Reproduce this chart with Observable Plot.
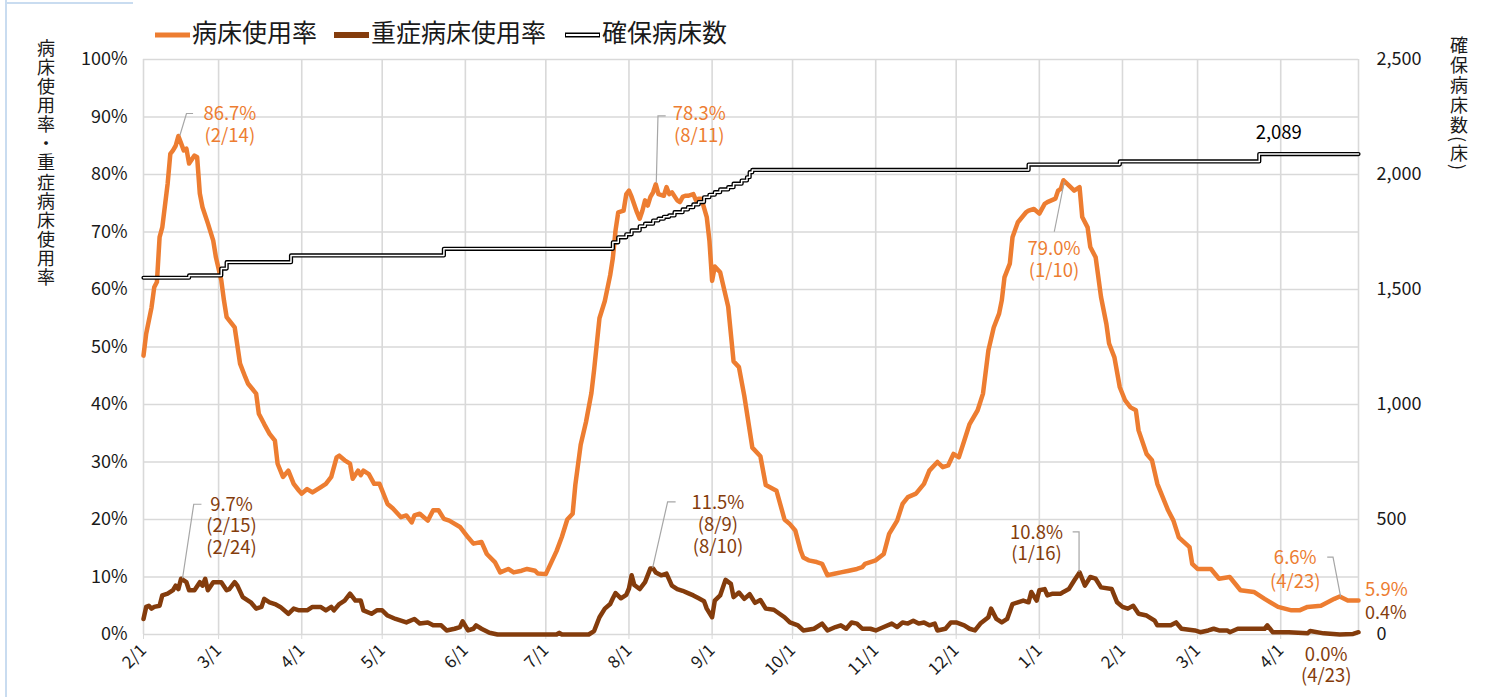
<!DOCTYPE html>
<html><head><meta charset="utf-8">
<script src="https://cdn.jsdelivr.net/npm/d3@7"></script>
<script src="https://cdn.jsdelivr.net/npm/@observablehq/plot@0.6"></script>
<style>
body{margin:0;background:#fff;}
#wrap{position:relative;width:1503px;height:697px;overflow:hidden;background:#fff;}
#wrap svg{position:absolute;left:0;top:0;}
.edgeL{position:absolute;left:5px;top:0;width:2px;height:697px;background:#c9dcf0;}
.edgeT{position:absolute;left:5px;top:2px;width:128px;height:2px;background:#c9dcf0;}
</style></head><body><div id="wrap"><div class="edgeL"></div><div class="edgeT"></div></div>
<script>
// ---- data ----
const occDates = [
"2022-02-01","2022-02-02","2022-02-04","2022-02-05","2022-02-06","2022-02-07","2022-02-08","2022-02-10","2022-02-11","2022-02-12",
"2022-02-13","2022-02-14","2022-02-16","2022-02-17","2022-02-18","2022-02-20","2022-02-21","2022-02-22","2022-02-23","2022-02-25",
"2022-02-27","2022-02-28","2022-03-02","2022-03-03","2022-03-04","2022-03-07","2022-03-09","2022-03-11","2022-03-12","2022-03-15",
"2022-03-16","2022-03-18","2022-03-20","2022-03-22","2022-03-23","2022-03-25","2022-03-27","2022-03-29","2022-03-31","2022-04-01",
"2022-04-03","2022-04-05","2022-04-08","2022-04-10","2022-04-12","2022-04-14","2022-04-15","2022-04-17","2022-04-19","2022-04-20",
"2022-04-22","2022-04-23","2022-04-24","2022-04-26","2022-04-28","2022-04-30","2022-05-03","2022-05-05","2022-05-08","2022-05-10",
"2022-05-12","2022-05-13","2022-05-15","2022-05-18","2022-05-20","2022-05-22","2022-05-24","2022-05-26","2022-05-30","2022-06-02",
"2022-06-04","2022-06-07","2022-06-09","2022-06-12","2022-06-14","2022-06-17","2022-06-19","2022-06-22","2022-06-24","2022-06-27",
"2022-06-28","2022-07-01","2022-07-03","2022-07-05","2022-07-07","2022-07-09","2022-07-11","2022-07-12","2022-07-14","2022-07-16",
"2022-07-18","2022-07-19","2022-07-21","2022-07-23","2022-07-25","2022-07-26","2022-07-27","2022-07-28","2022-07-30","2022-07-31",
"2022-08-01","2022-08-02","2022-08-04","2022-08-05","2022-08-06","2022-08-07","2022-08-08","2022-08-09","2022-08-10","2022-08-11",
"2022-08-12","2022-08-14","2022-08-15","2022-08-16","2022-08-17","2022-08-19","2022-08-20","2022-08-21","2022-08-22","2022-08-23",
"2022-08-25","2022-08-26","2022-08-27","2022-08-28","2022-08-30","2022-08-31","2022-09-01","2022-09-02","2022-09-04","2022-09-07",
"2022-09-09","2022-09-11","2022-09-13","2022-09-16","2022-09-19","2022-09-21","2022-09-25","2022-09-28","2022-09-30","2022-10-02",
"2022-10-04","2022-10-05","2022-10-07","2022-10-10","2022-10-12","2022-10-14","2022-10-17","2022-10-19","2022-10-22","2022-10-25",
"2022-10-27","2022-10-28","2022-11-01","2022-11-04","2022-11-06","2022-11-09","2022-11-11","2022-11-13","2022-11-16","2022-11-19",
"2022-11-21","2022-11-24","2022-11-26","2022-11-28","2022-11-30","2022-12-02","2022-12-04","2022-12-06","2022-12-09","2022-12-11",
"2022-12-13","2022-12-15","2022-12-17","2022-12-18","2022-12-19","2022-12-21","2022-12-22","2022-12-24","2022-12-27","2022-12-28",
"2022-12-30","2023-01-01","2023-01-03","2023-01-04","2023-01-07","2023-01-08","2023-01-09","2023-01-10","2023-01-12","2023-01-14",
"2023-01-16","2023-01-17","2023-01-19","2023-01-20","2023-01-22","2023-01-24","2023-01-26","2023-01-27","2023-01-29","2023-01-31",
"2023-02-02","2023-02-04","2023-02-06","2023-02-07","2023-02-10","2023-02-12","2023-02-14","2023-02-16","2023-02-18","2023-02-20",
"2023-02-22","2023-02-26","2023-02-27","2023-03-01","2023-03-06","2023-03-09","2023-03-13","2023-03-17","2023-03-22","2023-03-26",
"2023-03-31","2023-04-05","2023-04-08","2023-04-11","2023-04-16","2023-04-21","2023-04-23","2023-04-26","2023-04-30"];
const occValues = [
48.5,52.3,56.9,60.4,61.3,69.1,70.8,78.4,83.6,84.2,
85.0,86.7,84.2,84.5,81.9,83.3,83.0,76.7,74.3,71.5,
68.5,65.6,61.6,58.1,55.2,53.4,47.1,44.7,43.6,41.9,
38.4,36.6,34.9,33.7,29.7,27.4,28.5,26.2,25.0,24.5,
25.3,24.7,25.6,26.2,27.4,30.8,31.1,30.3,29.7,27.1,
28.5,27.7,28.5,27.9,26.2,26.2,22.7,21.9,20.4,20.7,
19.5,20.7,21.0,19.8,21.6,21.6,20.1,19.8,18.7,16.9,
15.8,16.1,14.0,12.6,10.8,11.4,10.8,11.1,11.4,11.1,
10.6,10.5,12.5,14.5,17.0,20.0,21.0,26.0,33.0,37.0,
42.0,46.0,55.0,58.0,62.5,65.5,70.3,73.4,73.7,76.6,
77.2,76.1,73.4,72.3,73.7,75.5,74.6,76.1,76.9,78.3,
76.6,76.3,77.8,76.6,76.9,75.5,75.2,76.1,76.3,76.3,
76.6,75.5,75.8,75.8,72.6,68.5,61.5,64.0,63.0,57.0,
47.5,46.5,41.5,32.5,31.0,26.0,25.0,20.0,19.2,18.1,
14.6,13.4,12.9,12.6,12.3,10.3,10.6,10.8,11.1,11.4,
11.7,12.3,12.9,14.0,17.5,19.8,22.7,23.9,24.5,26.2,
28.5,30.0,29.1,29.4,31.4,30.8,33.7,36.6,39.0,41.9,
49.4,53.4,55.8,58.1,62.1,64.5,69.1,71.7,73.4,73.7,
74.0,73.2,74.9,75.2,75.8,77.2,77.5,79.0,78.1,77.2,
77.8,72.6,70.8,67.4,65.6,58.7,54.0,50.6,48.2,43.0,
40.7,39.5,39.0,35.5,31.4,30.3,26.2,23.9,21.6,19.8,
16.9,15.2,12.3,11.4,11.4,9.7,10.0,7.7,7.4,6.2,
4.8,4.2,4.2,4.8,5.0,6.2,6.6,5.9,5.9];

const sevDates = [
"2022-02-01","2022-02-02","2022-02-03","2022-02-04","2022-02-05","2022-02-07","2022-02-08","2022-02-10","2022-02-12","2022-02-13",
"2022-02-14","2022-02-15","2022-02-17","2022-02-18","2022-02-20","2022-02-22","2022-02-23","2022-02-24","2022-02-25","2022-02-27",
"2022-02-28","2022-03-02","2022-03-04","2022-03-05","2022-03-07","2022-03-08","2022-03-10","2022-03-12","2022-03-13","2022-03-15",
"2022-03-17","2022-03-18","2022-03-20","2022-03-22","2022-03-24","2022-03-27","2022-03-29","2022-03-31","2022-04-03","2022-04-05",
"2022-04-08","2022-04-10","2022-04-12","2022-04-13","2022-04-15","2022-04-17","2022-04-19","2022-04-21","2022-04-23","2022-04-24",
"2022-04-27","2022-04-29","2022-05-01","2022-05-03","2022-05-06","2022-05-08","2022-05-10","2022-05-13","2022-05-15","2022-05-18",
"2022-05-20","2022-05-23","2022-05-25","2022-05-28","2022-05-30","2022-05-31","2022-06-02","2022-06-04","2022-06-05","2022-06-07",
"2022-06-10","2022-06-13","2022-07-05","2022-07-06","2022-07-07","2022-07-17","2022-07-19","2022-07-21","2022-07-23","2022-07-25",
"2022-07-26","2022-07-27","2022-07-29","2022-07-31","2022-08-01","2022-08-02","2022-08-03","2022-08-05","2022-08-07","2022-08-09",
"2022-08-10","2022-08-11","2022-08-13","2022-08-15","2022-08-17","2022-08-19","2022-08-21","2022-08-23","2022-08-25","2022-08-27",
"2022-08-29","2022-08-30","2022-09-01","2022-09-02","2022-09-04","2022-09-06","2022-09-08","2022-09-09","2022-09-11","2022-09-13",
"2022-09-15","2022-09-17","2022-09-19","2022-09-21","2022-09-24","2022-09-28","2022-09-30","2022-10-03","2022-10-05","2022-10-09",
"2022-10-12","2022-10-14","2022-10-17","2022-10-19","2022-10-21","2022-10-23","2022-10-25","2022-10-27","2022-10-30","2022-11-01",
"2022-11-04","2022-11-07","2022-11-09","2022-11-11","2022-11-13","2022-11-15","2022-11-17","2022-11-19","2022-11-21","2022-11-23",
"2022-11-24","2022-11-27","2022-11-29","2022-12-01","2022-12-04","2022-12-06","2022-12-08","2022-12-10","2022-12-13","2022-12-14",
"2022-12-16","2022-12-18","2022-12-20","2022-12-22","2022-12-24","2022-12-26","2022-12-28","2022-12-29","2022-12-31","2023-01-01",
"2023-01-03","2023-01-04","2023-01-06","2023-01-09","2023-01-10","2023-01-12","2023-01-14","2023-01-16","2023-01-18","2023-01-20",
"2023-01-22","2023-01-24","2023-01-28","2023-01-30","2023-02-01","2023-02-03","2023-02-05","2023-02-07","2023-02-10","2023-02-13",
"2023-02-14","2023-02-19","2023-02-21","2023-02-23","2023-02-28","2023-03-02","2023-03-05","2023-03-07","2023-03-09","2023-03-12",
"2023-03-13","2023-03-16","2023-03-26","2023-03-27","2023-03-29","2023-04-04","2023-04-11","2023-04-12","2023-04-17","2023-04-23",
"2023-04-28","2023-04-30"];
const sevValues = [
2.7,4.8,5.0,4.5,4.8,5.0,6.8,7.1,7.7,8.5,
7.9,9.7,9.1,7.7,7.7,9.1,8.5,9.7,7.7,9.1,
9.1,9.1,7.7,7.9,9.1,8.5,6.5,5.9,5.6,4.5,
4.8,6.2,5.6,5.3,4.8,3.6,4.5,4.2,4.2,4.8,
4.8,4.2,4.8,4.2,5.3,5.9,7.1,5.9,5.9,4.2,
3.6,4.2,4.2,3.3,2.7,2.4,2.1,2.7,1.9,2.1,
1.6,1.6,0.7,1.0,1.3,2.3,0.7,1.0,1.6,1.0,
0.3,0.0,0.0,0.3,0.0,0.0,0.6,3.0,4.5,5.3,
6.3,7.2,6.3,6.9,8.0,10.3,8.6,7.9,9.1,11.5,
11.5,10.8,10.3,10.6,8.5,7.9,7.6,7.2,6.8,6.3,
5.8,4.5,3.0,5.9,6.8,9.5,8.8,6.5,7.3,6.2,
7.0,5.5,6.0,4.5,4.3,3.0,2.1,1.6,0.7,1.0,
1.9,0.7,1.3,1.6,1.0,2.1,1.9,1.0,1.0,0.7,
1.3,1.9,1.3,2.1,1.9,2.4,1.9,2.1,1.6,1.9,
0.7,1.0,2.1,2.1,1.6,1.0,0.7,1.9,3.0,4.5,
2.7,2.1,2.7,5.3,5.6,5.9,5.6,7.4,5.9,7.7,
7.9,6.8,7.1,7.1,7.4,7.9,9.4,10.8,8.5,10.0,
9.7,8.2,7.9,5.6,4.8,4.5,5.0,3.6,3.3,2.4,
1.6,1.6,2.1,1.0,0.7,0.4,0.7,1.0,0.7,0.7,
0.4,1.0,1.0,1.6,0.4,0.4,0.2,0.6,0.2,0.0,
0.1,0.4];

const bedDates = [
"2022-02-01","2022-02-18","2022-03-02","2022-03-04","2022-03-28","2022-05-24","2022-07-26","2022-07-28","2022-07-31","2022-08-02",
"2022-08-05","2022-08-07","2022-08-10","2022-08-12","2022-08-14","2022-08-16","2022-08-18","2022-08-21","2022-08-23","2022-08-25",
"2022-08-27","2022-08-29","2022-08-31","2022-09-02","2022-09-04","2022-09-07","2022-09-09","2022-09-12","2022-09-14","2022-09-15",
"2022-09-16","2022-12-28","2023-01-31","2023-03-24","2023-04-30"];
const bedValues = [
1551,1561,1591,1619,1648,1677,1705,1727,1740,1757,
1775,1786,1800,1808,1816,1822,1836,1848,1858,1870,
1880,1901,1912,1923,1935,1945,1960,1974,1988,2010,
2020,2043,2057,2089,2089];

const monthTicks = ["2022-02-01","2022-03-01","2022-04-01","2022-05-01","2022-06-01","2022-07-01","2022-08-01",
"2022-09-01","2022-10-01","2022-11-01","2022-12-01","2023-01-01","2023-02-01","2023-03-01","2023-04-01"];
const pctTicks = [0,10,20,30,40,50,60,70,80,90,100];
const bedTicks = [0,500,1000,1500,2000,2500];
const BED_MAX = 2500;

const seriesNames = ["病床使用率","重症病床使用率","確保病床数"];
const leftTitle = "病床使用率・重症病床使用率";
const rightTitle = "確保病床数(床)";

// ---- build ----
const ORANGE = "#ED7D31", BROWN = "#843C0C", GRID = "#d9d9d9", LEAD = "#a6a6a6", INK = "#1a1a1a";
const FONT = "'Noto Sans CJK JP', 'Noto Sans', sans-serif";
const toD = s => new Date(s + "T00:00:00Z");
const occ = occDates.map((d, i) => ({date: toD(d), v: occValues[i]}));
const sev = sevDates.map((d, i) => ({date: toD(d), v: sevValues[i]}));
const bed = bedDates.map((d, i) => ({date: toD(d), v: bedValues[i]}));
const X0 = toD("2022-02-01"), X1 = toD("2023-04-30");
const ticks = monthTicks.map(toD);

const chart = Plot.plot({
  width: 1503, height: 697,
  marginLeft: 143, marginRight: 145, marginTop: 59, marginBottom: 63,
  style: {fontFamily: FONT, background: "transparent", color: INK, overflow: "visible"},
  x: {type: "utc", domain: [X0, X1]},
  y: {domain: [0, 100]},
  marks: [
    Plot.gridY({ticks: pctTicks, stroke: GRID, strokeOpacity: 1, strokeWidth: 1.6}),
    Plot.gridX({ticks, stroke: GRID, strokeOpacity: 1, strokeWidth: 1.6}),
    Plot.ruleX([X1], {stroke: GRID, strokeWidth: 1.6}),
    Plot.axisY({ticks: pctTicks, tickFormat: d => d + "%", tickSize: 0, tickPadding: 16, fontSize: 18, label: null}),
    Plot.axisY({anchor: "right", ticks: bedTicks.map(b => b / BED_MAX * 100), tickFormat: d => d3.format(",")(Math.round(d * BED_MAX / 100)), tickSize: 0, tickPadding: 18, fontSize: 18, label: null}),
    Plot.axisX({ticks, tickFormat: d => `${d.getUTCMonth() + 1}/${d.getUTCDate()}`, tickRotate: -45, tickSize: 5, tickPadding: 8, stroke: GRID, fontSize: 17, label: null}),
    Plot.line(occ, {x: "date", y: "v", stroke: ORANGE, strokeWidth: 4.5, strokeLinejoin: "round"}),
    Plot.line(sev, {x: "date", y: "v", stroke: BROWN, strokeWidth: 4.5, strokeLinejoin: "round"}),
    Plot.line(bed, {x: "date", y: d => d.v / BED_MAX * 100, curve: "step-after", stroke: "#000", strokeWidth: 4.2}),
    Plot.line(bed, {x: "date", y: d => d.v / BED_MAX * 100, curve: "step-after", stroke: "#fff", strokeWidth: 1.5})
  ]
});
document.getElementById("wrap").appendChild(chart);

const svg = d3.select(chart);
const sx = chart.scale("x"), sy = chart.scale("y");
const P = (d, v) => [sx.apply(toD(d)), sy.apply(v)];
const g = svg.append("g").attr("font-family", FONT).attr("text-anchor", "start");

function txt(x, y, s, opt = {}) {
  return g.append("text").attr("x", x).attr("y", y).attr("dy", "0.36em")
    .attr("text-anchor", opt.anchor || "start").attr("fill", opt.fill || INK)
    .attr("font-size", opt.size || 18).text(s);
}
// multi-line label as one text element with tspans
function mtxt(x, y, lines, lh, opt = {}) {
  const t = g.append("text").attr("x", x).attr("y", y)
    .attr("text-anchor", opt.anchor || "middle").attr("fill", opt.fill || INK)
    .attr("font-size", opt.size || 18);
  lines.forEach((s, i) => t.append("tspan").attr("x", x).attr("dy", i === 0 ? "0.36em" : lh).text(s));
  return t;
}

// annotations: anchored at data point, offsets in px
const ann = [
  {d: "2022-02-14", v: 86.7, c: ORANGE, lines: ["86.7%", "(2/14)"], tx: 52, ty: -22, lh: 21.5, lead: [[2, 0], [8.6, -22], [15.2, -22]]},
  {d: "2022-02-15", v: 9.7, c: BROWN, lines: ["9.7%", "(2/15)", "(2/24)"], tx: 51, ty: -74, lh: 21.5, lead: [[2, 0], [13.2, -74], [20.9, -74]]},
  {d: "2022-08-11", v: 78.3, c: ORANGE, lines: ["78.3%", "(8/11)"], tx: 44, ty: -70, lh: 21.5, lead: [[1, -1], [2.7, -68], [10.4, -68]]},
  {d: "2022-08-09", v: 11.5, c: BROWN, lines: ["11.5%", "(8/9)", "(8/10)"], tx: 68, ty: -66, lh: 22, lead: [[2.7, 0], [17.7, -66], [25.7, -66]]},
  {d: "2023-01-10", v: 79.0, c: ORANGE, lines: ["79.0%", "(1/10)"], tx: -9, ty: 69, lh: 21.5, lead: [[1.3, 2], [-8.7, 52]]},
  {d: "2023-01-16", v: 10.8, c: BROWN, lines: ["10.8%", "(1/16)"], tx: -42.5, ty: -40, lh: 21.5, lead: [[-6.4, -40], [0, -40], [0, 0]]},
  {d: "2023-04-23", v: 6.6, c: ORANGE, lines: ["6.6%", "(4/23)"], tx: -44, ty: -39, lh: 24, lead: [[-12, -39], [-6.2, -39], [1.4, 0.6]]},
  {d: "2023-04-23", v: 0.0, c: BROWN, lines: ["0.0%", "(4/23)"], tx: -13, ty: 20, lh: 21.5, lead: null}
];
for (const a of ann) {
  const [px, py] = P(a.d, a.v);
  if (a.lead) {
    g.append("polyline").attr("points", a.lead.map(([dx, dy]) => `${px + dx},${py + dy}`).join(" "))
      .attr("fill", "none").attr("stroke", LEAD).attr("stroke-width", 1.2);
  }
  mtxt(px + a.tx, py + a.ty, a.lines, a.lh, {fill: a.c, size: 18.5});
}
// end labels
{
  const last = occ[occ.length - 1], lastS = sev[sev.length - 1];
  txt(sx.apply(last.date) + 7, sy.apply(last.v) - 11, last.v.toFixed(1) + "%", {fill: ORANGE, size: 18.5});
  txt(sx.apply(lastS.date) + 7, sy.apply(lastS.v) - 19, lastS.v.toFixed(1) + "%", {fill: BROWN, size: 18});
  const b = bed[bed.length - 2];
  txt(sx.apply(b.date) + 20, sy.apply(b.v / BED_MAX * 100) - 21.5, d3.format(",")(b.v), {anchor: "middle", fill: "#000", size: 18.5});
}

// vertical axis titles (single vertical text element each)
function vtext(x, y, s, ls) {
  g.append("text").attr("x", x).attr("y", y)
    .style("writing-mode", "vertical-rl").style("text-orientation", "mixed")
    .attr("text-anchor", "start").attr("font-size", 18).attr("letter-spacing", ls)
    .attr("fill", INK).text(s);
}
vtext(46, 39, leftTitle, 1.1);
vtext(1459, 36, rightTitle, 2);

// legend
const items = [
  {x: 155, w: 35, name: seriesNames[0], kind: "o"},
  {x: 334, w: 35, name: seriesNames[1], kind: "b"},
  {x: 565, w: 35, name: seriesNames[2], kind: "d"}
];
for (const it of items) {
  const y = 35;
  const ln = (c, w, inset) => g.append("line").attr("x1", it.x + inset).attr("x2", it.x + it.w - inset)
    .attr("y1", y).attr("y2", y).attr("stroke", c).attr("stroke-width", w);
  if (it.kind === "o") ln(ORANGE, 5, 0);
  if (it.kind === "b") ln(BROWN, 6, 0);
  if (it.kind === "d") { ln("#000", 5, 0); ln("#fff", 2, 1); }
  txt(it.x + it.w + 2, 33, it.name, {size: 25});
}
</script></body></html>
